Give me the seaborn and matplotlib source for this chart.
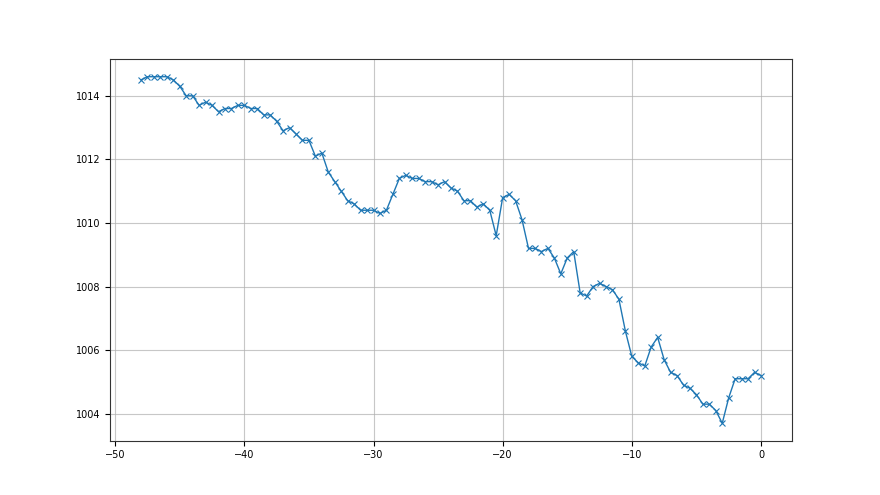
import numpy as np
import pandas as pd
import matplotlib
matplotlib.use("Agg")
import matplotlib.pyplot as plt
import seaborn as sns

hours = [-48 + 0.5 * i for i in range(97)]
pressure = [
    1014.5, 1014.6, 1014.6, 1014.6, 1014.6, 1014.5, 1014.3, 1014.0, 1014.0, 1013.7,
    1013.8, 1013.7, 1013.5, 1013.6, 1013.6, 1013.7, 1013.7,
    1013.6, 1013.6, 1013.4, 1013.4, 1013.2, 1012.9, 1013.0, 1012.8, 1012.6, 1012.6,
    1012.1, 1012.2, 1011.6, 1011.3, 1011.0, 1010.7, 1010.6, 1010.4, 1010.4, 1010.4,
    1010.3, 1010.4, 1010.9, 1011.4, 1011.5, 1011.4, 1011.4, 1011.3, 1011.3, 1011.2,
    1011.3, 1011.1, 1011.0, 1010.7, 1010.7, 1010.5, 1010.6, 1010.4, 1009.6, 1010.8,
    1010.9, 1010.7, 1010.1, 1009.2, 1009.2, 1009.1, 1009.2, 1008.9, 1008.4, 1008.9,
    1009.1, 1007.8, 1007.7, 1008.0, 1008.1, 1008.0, 1007.9, 1007.6, 1006.6, 1005.8,
    1005.6, 1005.5, 1006.1, 1006.4, 1005.7, 1005.3, 1005.2, 1004.9, 1004.8, 1004.6,
    1004.3, 1004.3, 1004.1, 1003.7, 1004.5, 1005.1, 1005.1, 1005.1, 1005.3, 1005.2,
]

df = pd.DataFrame({"hours": hours, "pressure": pressure})

fig = plt.figure(figsize=(8.8, 4.95), dpi=100)
ax = fig.add_axes([0.125, 0.11, 0.775, 0.77])
sns.lineplot(data=df, x="hours", y="pressure", marker="x", color="#1f77b4",
             linewidth=1.0, markersize=4, markeredgecolor="#1f77b4",
             markeredgewidth=0.8, ax=ax)
ax.grid(True, color="#b0b0b0", linewidth=0.8, alpha=0.7)
ax.set_xlabel("")
ax.set_ylabel("")
ax.tick_params(labelsize=7)
for s in ax.spines.values():
    s.set_color("#333333")
fig.savefig("out.png", dpi=100)
